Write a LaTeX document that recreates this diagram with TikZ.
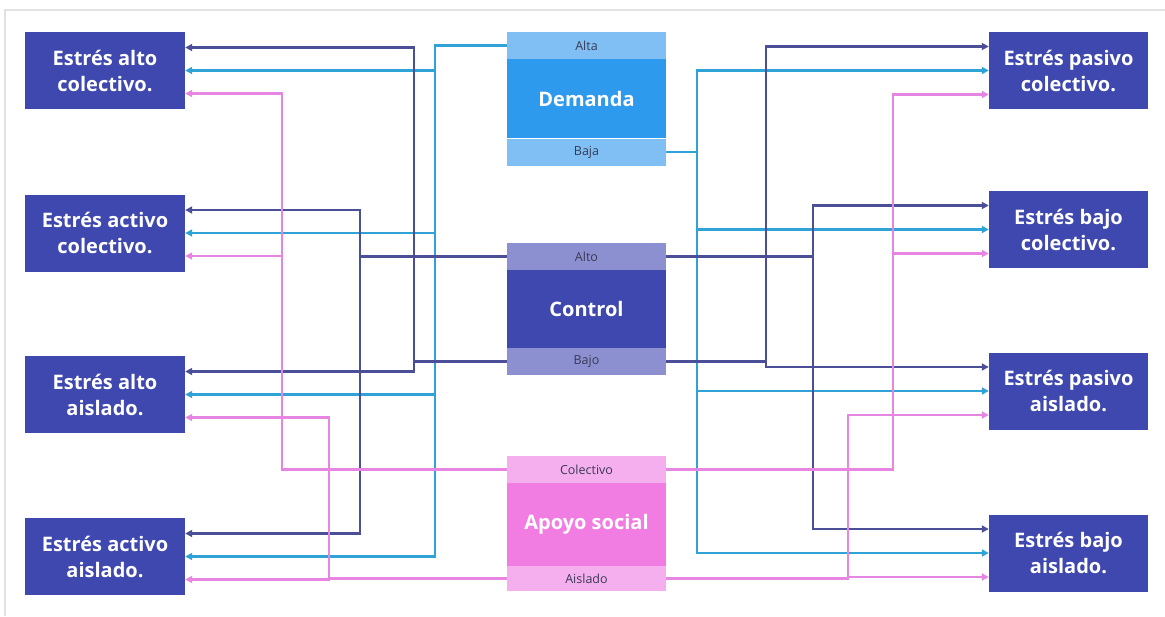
\documentclass[tikz,border=0pt]{standalone}
\usepackage{fontspec}
\setmainfont{Open Sans}
\usetikzlibrary{arrows.meta,calc}

\definecolor{boxblue}{HTML}{3F48AE}
\definecolor{linedark}{HTML}{4B4F97}
\definecolor{linecyan}{HTML}{2FA2D6}
\definecolor{linepink}{HTML}{E685E2}
\definecolor{demband}{HTML}{80BFF4}
\definecolor{demmain}{HTML}{2E9AEE}
\definecolor{ctlband}{HTML}{8C90D1}
\definecolor{ctlmain}{HTML}{3F48AE}
\definecolor{apoband}{HTML}{F5AFEE}
\definecolor{apomain}{HTML}{F27DE2}
\definecolor{smalltext}{HTML}{3A3A55}
\definecolor{frame}{HTML}{E2E2E2}

\tikzset{
  outcome/.style={rectangle, fill=boxblue, text=white, inner sep=0pt,
    minimum width=160pt, minimum height=77pt, align=center,
    font=\fontsize{20}{26}\selectfont\bfseries},
  band/.style={rectangle, inner sep=0pt, minimum width=159pt,
    minimum height=27pt, text=smalltext, font=\fontsize{12.5}{14}\selectfont},
  factor/.style={rectangle, inner sep=0pt, minimum width=159pt,
    text=white, font=\fontsize{20}{24}\selectfont\bfseries},
  wire/.style={line width=2.2pt, -{Triangle[length=7pt,width=7pt]}},
  wdark/.style={wire, draw=linedark},
  wcyan/.style={wire, draw=linecyan},
  wpink/.style={wire, draw=linepink},
}

\begin{document}
\begin{tikzpicture}[x=1pt,y=-1pt]
\useasboundingbox (0,0) rectangle (1165,616);
\fill[white] (0,0) rectangle (1165,616);
\draw[frame, line width=1.5pt] (5,616) -- (5,10) -- (1165,10);

% outcome boxes, left column
\node[outcome] (L1) at (105,70.5)  {Estrés alto\\colectivo.};
\node[outcome] (L2) at (105,233)   {Estrés activo\\colectivo.};
\node[outcome] (L3) at (105,394.5) {Estrés alto\\aislado.};
\node[outcome] (L4) at (105,556.5) {Estrés activo\\aislado.};

% outcome boxes, right column
\node[outcome, minimum width=159pt] (R1) at (1068.5,70.5)  {Estrés pasivo\\colectivo.};
\node[outcome, minimum width=159pt] (R2) at (1068.5,229.5) {Estrés bajo\\colectivo.};
\node[outcome, minimum width=159pt] (R3) at (1068.5,391)   {Estrés pasivo\\aislado.};
\node[outcome, minimum width=159pt] (R4) at (1068.5,553)   {Estrés bajo\\aislado.};

% factor blocks in the middle
\node[band, fill=demband] (dA) at (586.5,45.5) {Alta};
\node[factor, fill=demmain, minimum height=79pt] (dM) at (586.5,98.5) {Demanda};
\node[band, fill=demband] (dB) at (586.5,152) {Baja};

\node[band, fill=ctlband] (cA) at (586.5,256.5) {Alto};
\node[factor, fill=ctlmain, minimum height=78pt] (cM) at (586.5,309) {Control};
\node[band, fill=ctlband] (cB) at (586.5,361.5) {Bajo};

\node[band, fill=apoband] (aC) at (586.5,469.5) {Colectivo};
\node[factor, fill=apomain, minimum height=83pt] (aM) at (586.5,524.5) {Apoyo social};
\node[band, fill=apoband, minimum height=25pt] (aA) at (586.5,578.5) {Aislado};

% arrow tips on the outcome boxes
\foreach \b in {L1,L2,L3,L4}{
  \coordinate (\b d) at ($(\b.east)+(0,-23)$);
  \coordinate (\b c) at (\b.east);
  \coordinate (\b p) at ($(\b.east)+(0,23)$);
}
\foreach \b in {R1,R2,R3,R4}{
  \coordinate (\b d) at ($(\b.west)+(0,-24)$);
  \coordinate (\b c) at (\b.west);
  \coordinate (\b p) at ($(\b.west)+(0,24)$);
}

% vertical trunks
\coordinate (tDA) at (435,0);
\coordinate (tCB) at (414,0);
\coordinate (tCA) at (360,0);
\coordinate (tAC) at (282,0);
\coordinate (tAA) at (329,0);
\coordinate (tDB) at (697,0);
\coordinate (uCB) at (766,0);
\coordinate (uCA) at (813,0);
\coordinate (uAC) at (893,0);
\coordinate (uAA) at (848,0);

% left side
\foreach \b in {L1,L2,L3,L4}
  \draw[wcyan] (dA.west) -| (tDA |- \b c) -- (\b c);
\foreach \b in {L1,L3}
  \draw[wdark] (cB.west) -| (tCB |- \b d) -- (\b d);
\foreach \b in {L2,L4}
  \draw[wdark] (cA.west) -| (tCA |- \b d) -- (\b d);
\foreach \b in {L1,L2}
  \draw[wpink] (aC.west) -| (tAC |- \b p) -- (\b p);
\foreach \b in {L3,L4}
  \draw[wpink] (aA.west) -| (tAA |- \b p) -- (\b p);

% right side
\foreach \b in {R1,R2,R3,R4}
  \draw[wcyan] (dB.east) -| (tDB |- \b c) -- (\b c);
\foreach \b in {R1,R3}
  \draw[wdark] (cB.east) -| (uCB |- \b d) -- (\b d);
\foreach \b in {R2,R4}
  \draw[wdark] (cA.east) -| (uCA |- \b d) -- (\b d);
\foreach \b in {R1,R2}
  \draw[wpink] (aC.east) -| (uAC |- \b p) -- (\b p);
\foreach \b in {R3,R4}
  \draw[wpink] (aA.east) -| (uAA |- \b p) -- (\b p);
\end{tikzpicture}
\end{document}
